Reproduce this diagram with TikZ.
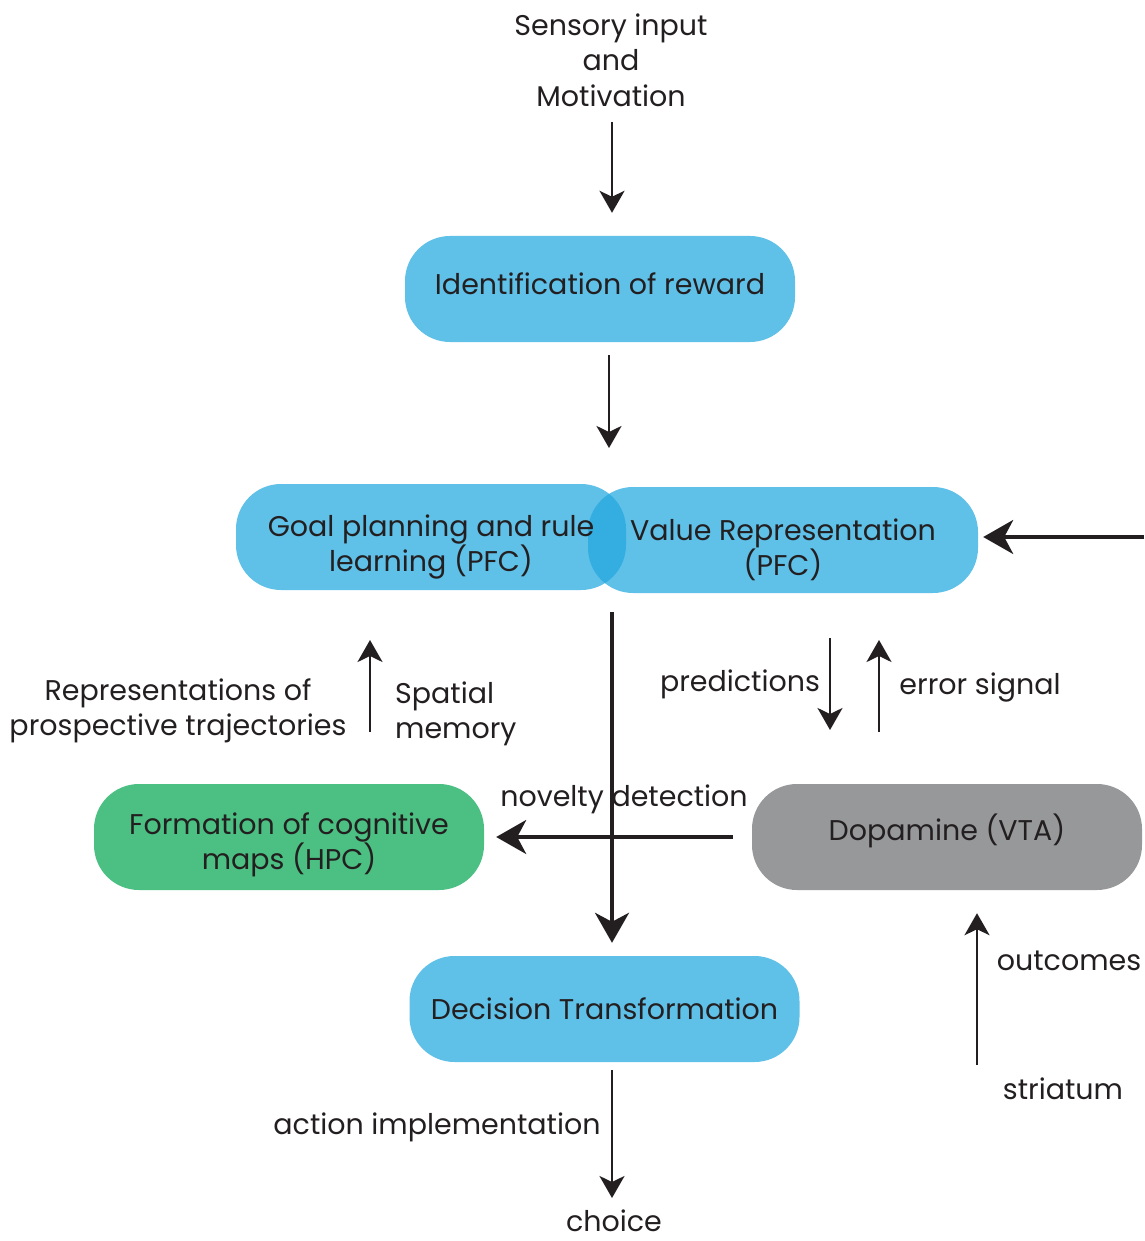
\documentclass[tikz,border=0pt]{standalone}
\usepackage{fontspec}
\setmainfont{Poppins}
\usetikzlibrary{positioning,arrows.meta}
\definecolor{pfcblue}{RGB}{36,168,223}
\definecolor{hpcgreen}{RGB}{75,192,130}
\definecolor{vtagray}{RGB}{151,152,154}
\definecolor{inkgray}{RGB}{35,31,32}

\begin{document}
\begin{tikzpicture}[
  x=1pt, y=-1pt,
  font=\fontsize{28.5}{35.5}\selectfont,
  text=inkgray,
  areabox/.style={rounded corners=45pt, minimum width=390pt, minimum height=106pt, align=center, inner sep=0pt},
  pfcbox/.style={areabox, fill=pfcblue, fill opacity=0.73, text opacity=1},
  lowtext/.style={text height=#1},
  hightext/.style={text depth=#1},
  lbl/.style={align=center, inner sep=0pt},
  flowmap/.style={-{Stealth[length=22pt, width=25pt, inset=6pt]}, draw=inkgray, line width=2.6pt},
  bigmap/.style={-{Stealth[length=30pt, width=34pt, inset=9pt]}, draw=inkgray, line width=3.6pt}
]
  \useasboundingbox (0,0) rectangle (1144,1241);

  % boxes
  \node[pfcbox, hightext=11pt] (ident) at (600,289) {Identification of reward};
  \node[pfcbox, lowtext=77pt] (value) at (783,540) {Value Representation\\(PFC)};
  \node[pfcbox, lowtext=77pt] (goal) at (431,537) {Goal planning and rule\\learning (PFC)};
  \node[areabox, fill=hpcgreen, lowtext=73pt] (hpc) at (289,837) {Formation of cognitive\\maps (HPC)};
  \node[areabox, fill=vtagray, hightext=20pt] (vta) at (947,837) {Dopamine (VTA)};
  \node[pfcbox] (decis) at (604.5,1009) {Decision Transformation};

  % free texts
  \node[lbl] (sens) at (611,60) {Sensory input\\and\\Motivation};
  \node[lbl] (pred) at (740,684) {predictions};
  \node[lbl] (errsig) at (980,687) {error signal};
  \node[lbl] (prosp) at (178,711) {Representations of\\prospective trajectories};
  \node[lbl, align=left, anchor=west] (spat) at (395,714) {Spatial\\memory};
  \node[lbl] (novel) at (624,799) {novelty detection};
  \node[lbl] (outc) at (1069,961) {outcomes};
  \node[lbl] (stri) at (1063,1089) {striatum};
  \node[lbl] (actimp) at (437,1127) {action implementation};
  \node[lbl] (choice) at (614,1221) {choice};

  % free ends
  \coordinate (sensout) at (612,122);
  \coordinate (rewout) at (609,355);
  \coordinate (rewin) at (609,448);
  \coordinate (rightin) at (1144,537);
  \coordinate (vsplit) at (612,612);
  \coordinate (predtop) at (830,638);
  \coordinate (predbot) at (830,730);
  \coordinate (errbot) at (879,732);
  \coordinate (errtop) at (879,640);
  \coordinate (spatbot) at (370,732);
  \coordinate (spattop) at (370,640);
  \coordinate (striin) at (977,1065);
  \coordinate (actout) at (612,1198);

  % connectors
  \draw[flowmap, shorten >=23pt] (sensout) -- (sensout |- ident.north);
  \draw[flowmap] (rewout) -- (rewin);
  \draw[bigmap, shorten >=5pt] (rightin) -- (rightin -| value.east);
  \draw[flowmap] (predtop) -- (predbot);
  \draw[flowmap] (errbot) -- (errtop);
  \draw[flowmap] (spatbot) -- (spattop);
  \draw[bigmap, shorten <=19pt, shorten >=12pt] (vta.west) -- (hpc.east);
  \draw[bigmap, shorten >=13pt] (vsplit) -- (vsplit |- decis.north);
  \draw[flowmap, shorten >=23pt] (striin) -- (striin |- vta.south);
  \draw[flowmap, shorten <=8pt] (actout |- decis.south) -- (actout);
\end{tikzpicture}
\end{document}
